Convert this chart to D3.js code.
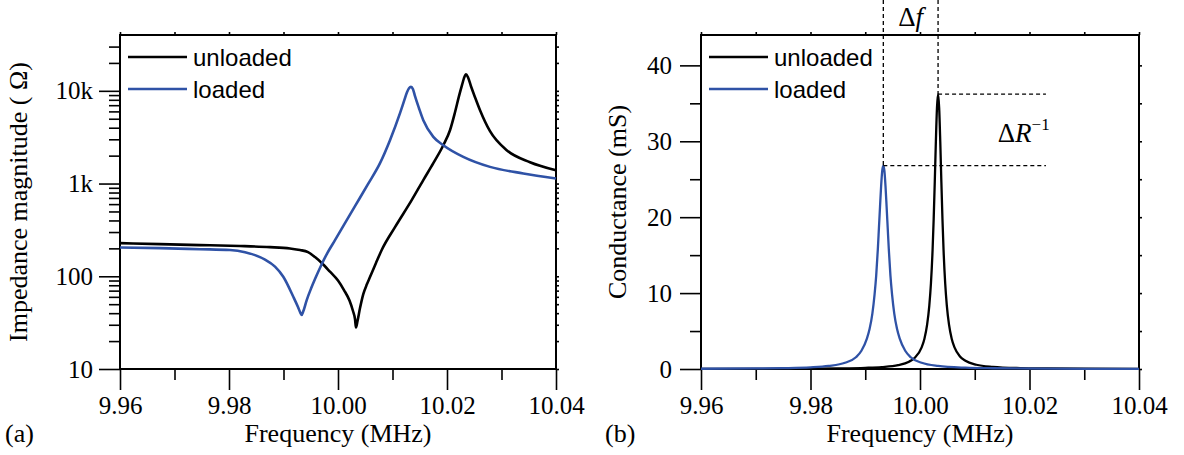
<!DOCTYPE html>
<html>
<head>
<meta charset="utf-8">
<script src="https://cdn.jsdelivr.net/npm/d3@7"></script>
<style>
    body { margin: 0; background: #fff; }
    svg { display: block; }
</style>
</head>
<body>
<div id="chart"></div>
<script>
// ---- data ----
const freqTicks = [9.96, 9.98, 10.00, 10.02, 10.04];
const freqMinorTicks = [9.97, 9.99, 10.01, 10.03];
const impedanceTicks = [10, 100, 1000, 10000];
const impedanceTickLabels = ["10", "100", "1k", "10k"];
const conductanceTicks = [0, 10, 20, 30, 40];
const conductanceMinorTicks = [5, 15, 25, 35];
const seriesNames = ["unloaded", "loaded"];

// [frequency MHz, |Z| ohm]
const unloadedImpedance = [
    [9.96000, 228], [9.96734, 222], [9.97468, 217], [9.98202, 212], [9.98752, 206],
    [9.99119, 199], [9.99303, 192], [9.99450, 182], [9.99578, 161], [9.99701, 139],
    [9.99853, 112], [10.00000, 89.9], [10.00110, 71.0], [10.00211, 54.7], [10.00275, 42.2],
    [10.00312, 34.6], [10.00330, 28.0], [10.00358, 32.9], [10.00404, 45.4], [10.00464, 64.3],
    [10.00532, 82.4], [10.00587, 98], [10.00697, 139], [10.00802, 192], [10.01046, 339],
    [10.01352, 662], [10.01565, 1090], [10.01749, 1660], [10.01932, 2590], [10.02055, 3760],
    [10.02147, 5880], [10.02220, 8750], [10.02275, 11500], [10.02312, 13700], [10.02349, 15100],
    [10.02385, 14000], [10.02440, 11200], [10.02514, 8530], [10.02606, 6180], [10.02789, 3670],
    [10.03095, 2290], [10.03523, 1700], [10.04000, 1390]
];
const loadedImpedance = [
    [9.96000, 204], [9.96734, 201], [9.97468, 196], [9.98018, 192], [9.98294, 182],
    [9.98477, 169], [9.98661, 151], [9.98844, 127], [9.98996, 98.8], [9.99180, 60.1],
    [9.99266, 46.6], [9.99312, 40.1], [9.99334, 38.2], [9.99358, 41.1], [9.99426, 55.4],
    [9.99505, 73.7], [9.99578, 93.3], [9.99701, 135], [9.99804, 178], [9.99945, 245],
    [10.00128, 374], [10.00312, 571], [10.00550, 985], [10.00771, 1660], [10.00954, 2935],
    [10.01138, 5740], [10.01211, 7730], [10.01266, 9660], [10.01303, 10670], [10.01339, 11020],
    [10.01376, 10410], [10.01413, 8750], [10.01486, 6490], [10.01565, 4820], [10.01749, 3190],
    [10.01932, 2590], [10.02299, 1940], [10.02789, 1513], [10.03400, 1285], [10.04000, 1135]
];

// [frequency MHz, G mS]
const unloadedConductance = [
    [9.9600, 0.015], [9.9700, 0.025], [9.9800, 0.051], [9.9850, 0.083], [9.9900, 0.157],
    [9.9930, 0.26], [9.9960, 0.51], [9.9980, 0.97], [9.9990, 1.45], [10.0003, 2.85],
    [10.0008, 3.96], [10.0013, 5.84], [10.0017, 8.36], [10.0020, 11.3], [10.0023, 15.7],
    [10.0025, 19.8], [10.0027, 24.7], [10.0029, 30.0], [10.0031, 34.4], [10.0033, 36.2],
    [10.0035, 34.4], [10.0037, 30.0], [10.0039, 24.7], [10.0041, 19.8], [10.0043, 15.7],
    [10.0046, 11.3], [10.0049, 8.36], [10.0053, 5.84], [10.0058, 3.96], [10.0063, 2.85],
    [10.0073, 1.66], [10.0083, 1.08], [10.0103, 0.56], [10.0133, 0.28], [10.0183, 0.12],
    [10.0233, 0.07], [10.0300, 0.039], [10.0400, 0.021]
];
const loadedConductance = [
    [9.9600, 0.035], [9.9700, 0.071], [9.9750, 0.115], [9.9800, 0.216], [9.9833, 0.40],
    [9.9863, 0.82], [9.9883, 1.55], [9.9893, 2.4], [9.9903, 4.0], [9.9908, 5.3],
    [9.9913, 7.3], [9.9917, 9.8], [9.9920, 12.3], [9.9923, 15.8], [9.9925, 18.6],
    [9.9927, 21.4], [9.9929, 24.1], [9.9931, 26.1], [9.9933, 26.8], [9.9935, 26.1],
    [9.9937, 24.1], [9.9939, 21.4], [9.9941, 18.6], [9.9943, 15.8], [9.9946, 12.3],
    [9.9949, 9.8], [9.9953, 7.3], [9.9958, 5.3], [9.9963, 4.0], [9.9973, 2.4],
    [9.9983, 1.55], [10.0003, 0.82], [10.0033, 0.40], [10.0083, 0.17], [10.0133, 0.096],
    [10.0233, 0.043], [10.0400, 0.018]
];

// resonance peaks used for the dashed guide lines [frequency, G]
const unloadedPeak = [10.0033, 36.2];
const loadedPeak = [9.9933, 26.8];
const guideEndFreq = 10.0230;

// ---- styles ----
const colors = {unloaded: "#000000", loaded: "#2f52a6"};
const serif = "'Liberation Serif', 'Times New Roman', serif";
const sans = "'Liberation Sans', Arial, sans-serif";

const svg = d3.select("#chart").append("svg")
    .attr("width", 1184)
    .attr("height", 455);

function styleAxis(g, fontSize) {
    g.select(".domain").remove();
    g.selectAll("line").attr("stroke", "#000").attr("stroke-width", 1.6);
    g.selectAll("text")
        .style("font-family", serif)
        .style("font-size", fontSize + "px")
        .attr("fill", "#000");
}

function drawPanel(p) {
    let g = svg.append("g");
    let [x0, x1] = p.x.range();
    let [y0, y1] = p.y.range();

    // bottom axis: majors with labels, minors without
    g.append("g").attr("transform", `translate(0,${y0})`)
        .call(d3.axisBottom(p.x).tickValues(freqTicks).tickSize(21).tickPadding(6)
            .tickFormat(d3.format(".2f")))
        .call(s => styleAxis(s, 25));
    g.append("g").attr("transform", `translate(0,${y0})`)
        .call(d3.axisBottom(p.x).tickValues(freqMinorTicks).tickSize(11).tickFormat(""))
        .call(s => styleAxis(s, 25));

    // top and right mirror ticks
    g.append("g").attr("transform", `translate(0,${y1})`)
        .call(d3.axisTop(p.x).tickValues(freqTicks.concat(freqMinorTicks)).tickSize(3).tickFormat(""))
        .call(s => styleAxis(s, 25));
    g.append("g").attr("transform", `translate(${x1},0)`)
        .call(d3.axisRight(p.y).tickValues(p.yTicks.concat(p.yMinor)).tickSize(3).tickFormat(""))
        .call(s => styleAxis(s, 25));

    // left axis
    g.append("g").attr("transform", `translate(${x0},0)`)
        .call(d3.axisLeft(p.y).tickValues(p.yTicks).tickSize(21).tickPadding(p.yPad)
            .tickFormat((d, i) => p.yLabels[i]))
        .call(s => styleAxis(s, 25));
    g.append("g").attr("transform", `translate(${x0},0)`)
        .call(d3.axisLeft(p.y).tickValues(p.yMinor).tickSize(11).tickFormat(""))
        .call(s => styleAxis(s, 25));

    // frame
    g.append("rect")
        .attr("x", x0).attr("y", y1)
        .attr("width", x1 - x0).attr("height", y0 - y1)
        .attr("fill", "none")
        .attr("stroke", "#000")
        .attr("stroke-width", 2);

    // curves
    let line = d3.line()
        .x(d => p.x(d[0]))
        .y(d => p.y(d[1]))
        .curve(d3.curveMonotoneX);
    p.series.forEach(s => {
        g.append("path")
            .datum(s.values)
            .attr("fill", "none")
            .attr("stroke", colors[s.name])
            .attr("stroke-width", p.lineWidth)
            .attr("stroke-linejoin", "round")
            .attr("d", line);
    });

    // legend
    seriesNames.forEach((name, i) => {
        let ly = 57 + i * 32;
        g.append("line")
            .attr("x1", x0 + 8).attr("x2", x0 + 67)
            .attr("y1", ly).attr("y2", ly)
            .attr("stroke", colors[name])
            .attr("stroke-width", 2.5);
        g.append("text")
            .attr("x", x0 + 73).attr("y", ly + 9)
            .attr("font-family", sans)
            .attr("font-size", 24)
            .text(name);
    });

    // axis titles and panel tag
    g.append("text")
        .attr("x", (x0 + x1) / 2).attr("y", 442)
        .attr("text-anchor", "middle")
        .attr("font-family", serif).attr("font-size", 26)
        .text("Frequency (MHz)");
    g.append("text")
        .attr("transform", `translate(${p.titleX},${(y0 + y1) / 2}) rotate(-90)`)
        .attr("text-anchor", "middle")
        .attr("font-family", serif).attr("font-size", 26)
        .text(p.yTitle);
    g.append("text")
        .attr("x", p.tagX).attr("y", 442)
        .attr("font-family", serif).attr("font-size", 26)
        .text(p.tag);

    return g;
}

// ---- panel (a): impedance, log scale ----
let xA = d3.scaleLinear().domain([9.96, 10.04]).range([120, 556]);
let yA = d3.scaleLog().domain([10, 40000]).range([369, 35]);
let logMinor = [];
impedanceTicks.forEach(d => {
    for (let k = 2; k <= 9; k++) { if (d * k < 40000) logMinor.push(d * k); }
});

drawPanel({
    x: xA, y: yA,
    yTicks: impedanceTicks, yMinor: logMinor, yLabels: impedanceTickLabels, yPad: 6,
    series: [{name: "unloaded", values: unloadedImpedance}, {name: "loaded", values: loadedImpedance}],
    lineWidth: 2.6,
    yTitle: "Impedance magnitude ( \u03A9)", titleX: 27,
    tag: "(a)", tagX: 5
});

// ---- panel (b): conductance ----
let xB = d3.scaleLinear().domain([9.96, 10.04]).range([701, 1139]);
let yB = d3.scaleLinear().domain([0, 44]).range([369, 35]);

let panelB = drawPanel({
    x: xB, y: yB,
    yTicks: conductanceTicks, yMinor: conductanceMinorTicks, yLabels: conductanceTicks.map(String), yPad: 8,
    series: [{name: "unloaded", values: unloadedConductance}, {name: "loaded", values: loadedConductance}],
    lineWidth: 2.3,
    yTitle: "Conductance (mS)", titleX: 626,
    tag: "(b)", tagX: 605
});

// dashed guides for the frequency shift and the peak difference
let guides = panelB.append("g")
    .attr("stroke", "#000")
    .attr("stroke-width", 1.3)
    .attr("stroke-dasharray", "4,3")
    .attr("fill", "none");
[unloadedPeak, loadedPeak].forEach(pk => {
    guides.append("line")
        .attr("x1", xB(pk[0])).attr("x2", xB(pk[0]))
        .attr("y1", 0).attr("y2", yB(pk[1]));
    guides.append("line")
        .attr("x1", xB(pk[0])).attr("x2", xB(guideEndFreq))
        .attr("y1", yB(pk[1])).attr("y2", yB(pk[1]));
});

let df = panelB.append("text")
    .attr("x", (xB(unloadedPeak[0]) + xB(loadedPeak[0])) / 2)
    .attr("y", 26)
    .attr("text-anchor", "middle")
    .attr("font-family", serif).attr("font-size", 27);
df.append("tspan").text("\u0394");
df.append("tspan").attr("font-style", "italic").text("f");

let dr = panelB.append("text")
    .attr("x", xB(10.0142))
    .attr("y", 142)
    .attr("font-family", serif).attr("font-size", 27);
dr.append("tspan").text("\u0394");
dr.append("tspan").attr("font-style", "italic").text("R");
dr.append("tspan").attr("font-size", 17).attr("dy", -12).text("\u22121");
</script>
</body>
</html>
